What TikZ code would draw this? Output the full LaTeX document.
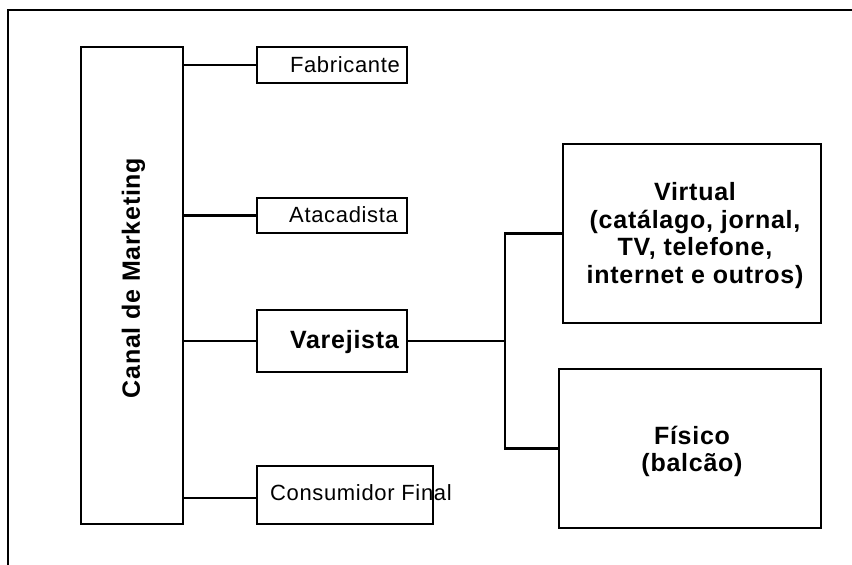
\documentclass[tikz,border=0pt]{standalone}
\usepackage{fontspec}
\setmainfont{Liberation Sans}[LetterSpace=3]
\usetikzlibrary{calc}
\begin{document}
\begin{tikzpicture}[x=1bp,y=-1bp,
  rule/.style={line width=2.2bp},
  box/.style={draw, line width=2.2bp, inner sep=0pt},
  link/.style={line width=2.2bp},
  plain/.style={font=\fontsize{22bp}{26bp}\selectfont, inner sep=0pt},
  heavy/.style={font=\fontsize{25bp}{27.5bp}\selectfont\bfseries, inner sep=0pt, align=center}]
\useasboundingbox (0,0) rectangle (852,565);

% open frame: left and top edges only
\coordinate (fbl) at (8,565);
\coordinate (ftl) at (8,10);
\coordinate (ftr) at (852,10);
\draw[rule] (fbl) -- (ftl) -- (ftr);

% boxes
\node[box, minimum width=102bp, minimum height=477bp] (canal) at (132,285.5) {};
\node[box, minimum width=150bp, minimum height=36bp]  (fab) at (332,65) {};
\node[box, minimum width=150bp, minimum height=35bp]  (ata) at (332,215.5) {};
\node[box, minimum width=150bp, minimum height=62bp]  (var) at (332,341) {};
\node[box, minimum width=176bp, minimum height=58bp]  (con) at (345,495) {};
\node[box, minimum width=258bp, minimum height=179bp] (vir) at (692,233.5) {};
\node[box, minimum width=262bp, minimum height=159bp] (fis) at (690,448.5) {};

% labels
\node[heavy, rotate=90] (canalt) at (133.5,278) {Canal de Marketing};
\node[plain, anchor=base east] (fabt) at ($(fab.east)+(-8,7.5)$) {Fabricante};
\node[plain, anchor=base east] (atat) at ($(ata.east)+(-10,7.5)$) {Atacadista};
\node[heavy, anchor=base east] (vart) at ($(var.east)+(-9,7.5)$) {Varejista};
\node[plain, anchor=base west] (cont) at ($(con.west)+(14,5)$) {Consumidor Final};
\node[heavy] (virt) at ($(vir.center)+(3,2)$) {Virtual\\(catálago, jornal,\\TV, telefone,\\internet e outros)};
\node[heavy] (fist) at ($(fis.center)+(2,3)$) {Físico\\(balcão)};

% connectors
\draw[link] (canal.east |- fab.west) -- (fab.west);
\draw[link] (canal.east |- ata.west) -- (ata.west);
\draw[link] (canal.east |- var.west) -- (var.west);
\draw[link] ($(canal.east |- con.west)+(0,3)$) -- ($(con.west)+(0,3)$);
\coordinate (split) at (505,341);
\draw[link] (var.east) -- (split);
\draw[link] (vir.west) -| (split) |- (fis.west);
\end{tikzpicture}
\end{document}
